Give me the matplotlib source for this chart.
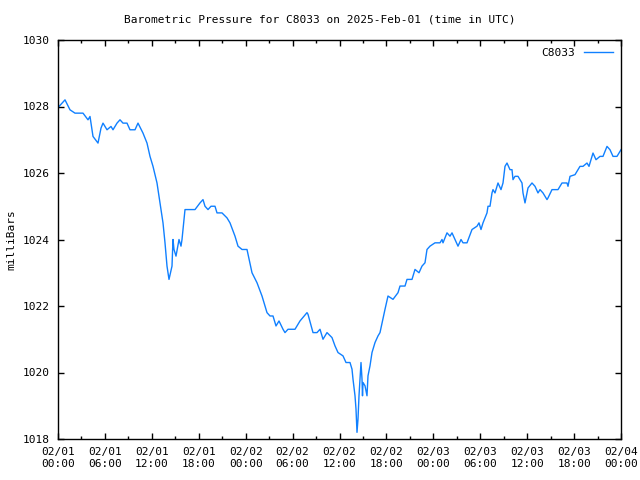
import matplotlib
matplotlib.use("Agg")
import matplotlib.pyplot as plt
import matplotlib.dates as mdates
import numpy as np
import datetime as dt

# time in hours since 2025-02-01 00:00 UTC (read from pixel positions)
hours_px = [59, 62, 65, 70, 75, 83, 88, 90, 93, 98, 101, 103, 107, 111, 113, 117, 120, 123, 127, 130,
            135, 138, 143, 147, 150, 153, 157, 160, 163, 165, 167, 169, 172, 173, 174, 176, 179, 181,
            182, 183, 185, 195, 200, 203, 205, 208, 211, 215, 217, 222, 227, 230, 235, 238, 242, 247,
            252, 257, 262, 267, 270, 273, 276, 279, 283, 285, 288, 295, 300, 307, 308, 313, 317, 320,
            323, 327, 332, 335, 338, 343, 346, 350, 352, 353, 355, 356, 357, 358, 359, 361, 362, 362.5,
            363, 365, 367, 368, 370, 372, 375, 378, 380, 385, 388, 393, 398, 400, 405, 407, 412, 415,
            419, 422, 425, 427, 430, 435, 440, 442, 443, 447, 450, 452, 455, 458, 461, 463, 467, 472,
            477, 479, 481, 483, 487, 488, 490, 492, 493, 495, 498, 501, 503, 505, 507, 510, 512, 513,
            515, 518, 522, 523, 525, 528, 532, 535, 538, 540, 543, 547, 548, 552, 558, 562, 567, 568,
            570, 575, 580, 583, 587, 589, 593, 596, 600, 603, 607, 610, 613, 617, 621]
pressure = [1028.0, 1028.1, 1028.2, 1027.9, 1027.8, 1027.8, 1027.6, 1027.7, 1027.1, 1026.9, 1027.35,
            1027.5, 1027.3, 1027.4, 1027.3, 1027.5, 1027.6, 1027.5, 1027.5, 1027.3, 1027.3, 1027.5,
            1027.2, 1026.9, 1026.5, 1026.2, 1025.7, 1025.1, 1024.5, 1023.9, 1023.2, 1022.8, 1023.2,
            1024.0, 1023.7, 1023.5, 1024.0, 1023.8, 1024.0, 1024.3, 1024.9, 1024.9, 1025.1, 1025.2,
            1025.0, 1024.9, 1025.0, 1025.0, 1024.8, 1024.8, 1024.65, 1024.5, 1024.1, 1023.8, 1023.7,
            1023.7, 1023.0, 1022.7, 1022.3, 1021.8, 1021.7, 1021.7, 1021.4, 1021.55, 1021.3, 1021.2,
            1021.3, 1021.3, 1021.55, 1021.8, 1021.75, 1021.2, 1021.2, 1021.3, 1021.0, 1021.2, 1021.05,
            1020.8, 1020.6, 1020.5, 1020.3, 1020.3, 1020.1, 1019.8, 1019.3, 1018.9, 1018.2, 1018.6,
            1019.3, 1020.3, 1019.8, 1019.3, 1019.7, 1019.6, 1019.3, 1019.9, 1020.2, 1020.6, 1020.9,
            1021.1, 1021.2, 1021.9, 1022.3, 1022.2, 1022.4, 1022.6, 1022.6, 1022.8, 1022.8, 1023.1,
            1023.0, 1023.2, 1023.3, 1023.7, 1023.8, 1023.9, 1023.9, 1024.0, 1023.9, 1024.2, 1024.1,
            1024.2, 1024.0, 1023.8, 1024.0, 1023.9, 1023.9, 1024.3, 1024.4, 1024.5, 1024.3, 1024.5,
            1024.8, 1025.0, 1025.0, 1025.4, 1025.5, 1025.4, 1025.7, 1025.5, 1025.7, 1026.2, 1026.3,
            1026.1, 1026.1, 1025.8, 1025.9, 1025.9, 1025.7, 1025.4, 1025.1, 1025.55, 1025.7, 1025.6,
            1025.4, 1025.5, 1025.4, 1025.2, 1025.25, 1025.5, 1025.5, 1025.7, 1025.7, 1025.6, 1025.9,
            1025.95, 1026.2, 1026.2, 1026.3, 1026.2, 1026.6, 1026.4, 1026.5, 1026.5, 1026.8, 1026.7,
            1026.5, 1026.5, 1026.7]
hours = [(x - 58) / (563 / 72) for x in hours_px]
series_name = "C8033"
title = "Barometric Pressure for C8033 on 2025-Feb-01 (time in UTC)"
ylabel = "milliBars"

start = dt.datetime(2025, 2, 1)
times = [start + dt.timedelta(hours=h) for h in hours]

plt.rcParams['font.family'] = ['DejaVu Sans Mono']
fig = plt.figure(figsize=(6.4, 4.8), dpi=100)
ax = fig.add_axes([58/640, 1-439/480, (621-58)/640, (439-40)/480])
ax.plot(times, pressure, color='#1080ff', lw=1.0, label=series_name)
ax.set_xlim(start, start + dt.timedelta(hours=72))
ax.set_ylim(1018, 1030)
ax.set_yticks(np.arange(1018, 1031, 2))
ax.xaxis.set_major_locator(mdates.HourLocator(byhour=[0, 6, 12, 18]))
ax.xaxis.set_minor_locator(mdates.HourLocator(byhour=[3, 9, 15, 21]))
ax.xaxis.set_major_formatter(mdates.DateFormatter('%m/%d\n%H:%M'))
ax.tick_params(direction='in', which='major', length=4, width=1, top=True, right=True,
               labelsize=8, pad=6)
ax.tick_params(direction='in', which='minor', length=2, width=1, top=True, right=True)
for s in ax.spines.values():
    s.set_linewidth(1.0)
fig.text(11/640, 0.5, ylabel, rotation=90, ha='center', va='center', fontsize=8)
fig.text(0.5, 1-19/480, title, ha='center', va='center', fontsize=8)
ax.legend(loc='upper right', frameon=False, fontsize=8, markerfirst=False,
          handlelength=2.6, borderaxespad=0.3)
fig.savefig('out.png', dpi=100)
